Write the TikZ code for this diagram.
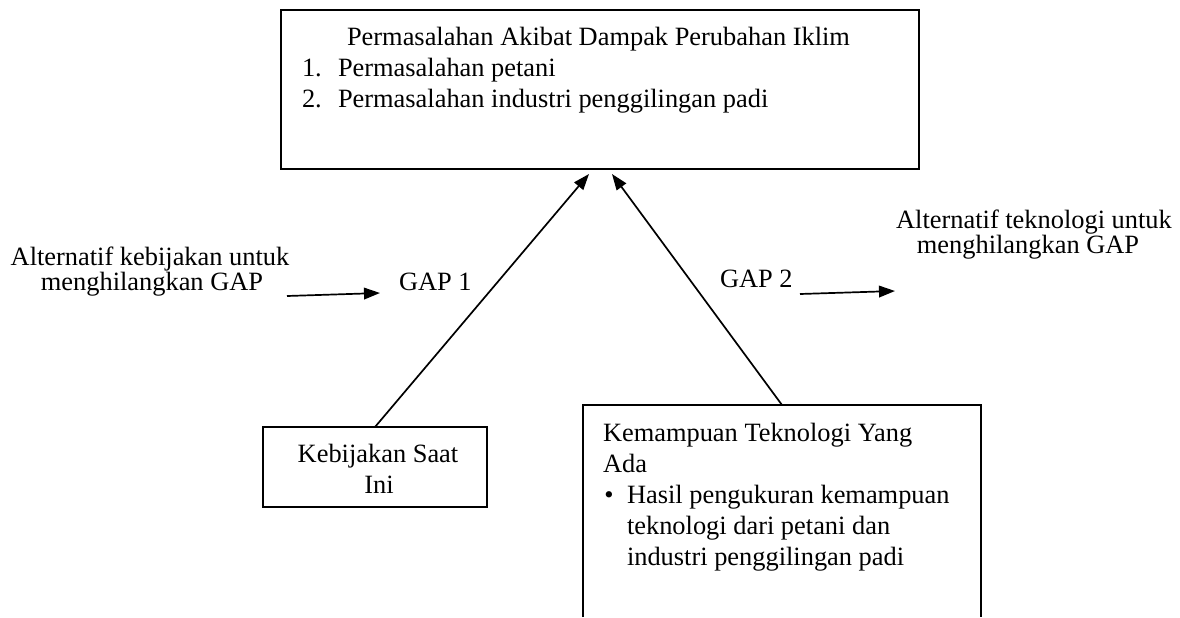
\documentclass[tikz,border=0pt]{standalone}
\usepackage{fontspec}
\setmainfont{Liberation Serif}
\usetikzlibrary{arrows.meta}
\begin{document}
\begin{tikzpicture}[x=0.5pt,y=-0.5pt,
  every node/.style={inner sep=0pt, outer sep=0pt, font=\fontsize{13.2pt}{15.5pt}\selectfont},
  boxstyle/.style={draw, line width=1pt, rectangle},
  txt/.style={anchor=base west},
  ctxt/.style={anchor=base},
  conn/.style={line width=0.85pt, -{Triangle[length=8pt,width=5.8pt]}},
  side/.style={line width=1pt}]
\useasboundingbox (0,0) rectangle (1180,617);
% top box
\node[boxstyle, anchor=north west, minimum width=319pt, minimum height=79.5pt] (prob) at (281,10) {};
\node[ctxt] (probt) at (598.5,45) {Permasalahan Akibat Dampak Perubahan Iklim};
\node[txt] (n1) at (302,76) {1.};
\node[txt] (p1) at (338,76) {Permasalahan petani};
\node[txt] (n2) at (302,107) {2.};
\node[txt] (p2) at (338,107) {Permasalahan industri penggilingan padi};
% left alternative text
\node[ctxt] (altk1) at (150,265) {Alternatif kebijakan untuk};
\node[ctxt] (altk2) at (152,290) {menghilangkan GAP};
\node[txt] (gap1) at (399,290) {GAP 1};
\coordinate (ak) at (287,296);
\coordinate (akt) at (380,293);
\draw[conn] (ak) -- (akt);
% right alternative text
\node[ctxt] (altt1) at (1034,228) {Alternatif teknologi untuk};
\node[ctxt] (altt2) at (1028,253) {menghilangkan GAP};
\node[txt] (gap2) at (720,287) {GAP 2};
\coordinate (at) at (800,294);
\coordinate (att) at (895,291);
\draw[conn] (at) -- (att);
% Kebijakan box
\node[boxstyle, anchor=north west, minimum width=112pt, minimum height=40pt] (keb) at (263,427) {};
\node[ctxt] (keb1) at (378,462) {Kebijakan Saat};
\node[ctxt] (keb2) at (379,493) {Ini};
% Teknologi box (open at bottom)
\node[anchor=north west, minimum width=199pt, minimum height=106pt] (tech) at (583,405) {};
\draw[side] (tech.south west) -- (tech.north west) -- (tech.north east) -- (tech.south east);
\node[txt] (tk1) at (603,441) {Kemampuan Teknologi Yang};
\node[txt] (tk2) at (603,472) {Ada};
\node[anchor=base] (bul) at (609,503) {\textbullet};
\node[txt] (tk3) at (627,503) {Hasil pengukuran kemampuan};
\node[txt] (tk4) at (627,534) {teknologi dari petani dan};
\node[txt] (tk5) at (627,565) {industri penggilingan padi};
% connectors
\coordinate (tip1) at (589,174);
\coordinate (tip2) at (612,174);
\draw[conn] (keb.north) -- (tip1);
\draw[conn] (tech.north) -- (tip2);
\end{tikzpicture}
\end{document}
